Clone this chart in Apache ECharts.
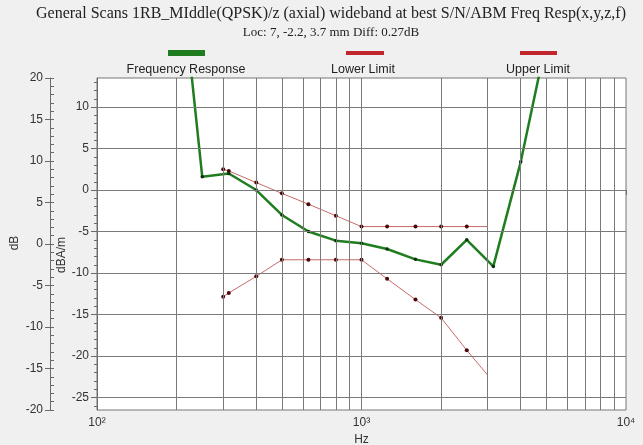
<!DOCTYPE html>
<html><head><meta charset="utf-8">
<script src="https://cdn.jsdelivr.net/npm/echarts@6/dist/echarts.min.js"></script>
<style>html,body{margin:0;padding:0;background:#f0f0f0}#c{width:643px;height:445px}</style>
</head><body><div id="c"></div>
<script>
const titleText = 'General Scans 1RB_MIddle(QPSK)/z (axial) wideband at best S/N/ABM Freq Resp(x,y,z,f)';
const subtitleText = 'Loc: 7, -2.2, 3.7 mm Diff: 0.27dB';
const legendNames = ['Frequency Response', 'Lower Limit', 'Upper Limit'];
const respFreqs = [200, 250, 315, 400, 500, 630, 800, 1000, 1250, 1600, 2000, 2500, 3150, 4000, 5000];
const respValues = [31, 1.6, 2.0, 0.0, -3.0, -5.0, -6.1, -6.4, -7.1, -8.35, -9.0, -6.0, -9.2, 3.4, 18];
const limitFreqs = [300, 315, 400, 500, 630, 800, 1000, 1250, 1600, 2000, 2500, 3000];
const upperValues = [2.5, 2.3, 0.9, -0.4, -1.7, -3.1, -4.4, -4.4, -4.4, -4.4, -4.4, -4.4];
const lowerValues = [-12.85, -12.4, -10.4, -8.4, -8.4, -8.4, -8.4, -10.7, -13.2, -15.4, -19.3, -22.3];
const innerTicks = [-25, -20, -15, -10, -5, 0, 5, 10];
const xTickLabels = {100: '10²', 1000: '10³', 10000: '10⁴'};
const vGridFreqs = [200, 300, 400, 500, 600, 700, 800, 900, 1000, 2000, 3000, 4000, 5000, 6000, 7000, 8000, 9000];

const innerMin = -26.5, innerMax = 13.5, outerMin = -20, outerMax = 20;
const innerMinor = [];
for (let v = Math.ceil(innerMin); v <= innerMax; v++) innerMinor.push(v);
const outerMinor = [];
for (let v = outerMin; v <= outerMax; v++) outerMinor.push(v);

const pairs = (xs, ys) => xs.map((x, i) => [x, ys[i]]);
const limitData = (ys) => limitFreqs.map((x, i) => i === limitFreqs.length - 1 ? {value: [x, ys[i]], symbol: 'none'} : [x, ys[i]]);

const axisCol = '#6a6a6a';
const labelStyle = {color: '#333', fontSize: 12, fontFamily: 'Liberation Sans'};
const gridCol = '#7a7a7a';

const chart = echarts.init(document.getElementById('c'));
chart.setOption({
  backgroundColor: '#f0f0f0',
  animation: false,
  grid: {left: 97, right: 17, top: 78, bottom: 35, show: true, backgroundColor: '#fff', borderColor: '#777', borderWidth: 1,
         outerBoundsMode: 'none', containLabel: false},
  xAxis: {
    type: 'log', logBase: 10, min: 100, max: 10000,
    axisLine: {lineStyle: {color: axisCol}},
    axisTick: {length: 5, lineStyle: {color: axisCol}},
    axisLabel: Object.assign({margin: 7, formatter: v => xTickLabels[Math.round(v)] || ''}, labelStyle),
    splitLine: {show: false}, minorTick: {show: false},
    name: 'Hz', nameLocation: 'middle', nameGap: 21,
    nameTextStyle: labelStyle
  },
  yAxis: [
    {type: 'value', min: innerMin, max: innerMax, position: 'left', offset: 0,
     axisLine: {show: true, lineStyle: {color: axisCol}},
     axisTick: {show: true, length: 6, customValues: innerTicks, lineStyle: {color: axisCol}},
     axisLabel: Object.assign({customValues: innerTicks, margin: 8}, labelStyle),
     splitLine: {show: false}},
    {type: 'value', min: innerMin, max: innerMax, position: 'left', offset: 0,
     axisLine: {show: false},
     axisTick: {show: true, length: 3, customValues: innerMinor, lineStyle: {color: axisCol}},
     axisLabel: {show: false}, splitLine: {show: false}},
    {type: 'value', min: outerMin, max: outerMax, interval: 5, position: 'left', offset: 47,
     axisLine: {show: true, lineStyle: {color: axisCol}},
     axisTick: {show: true, length: 5, lineStyle: {color: axisCol}},
     axisLabel: Object.assign({margin: 7}, labelStyle),
     splitLine: {show: false}},
    {type: 'value', min: outerMin, max: outerMax, position: 'left', offset: 47,
     axisLine: {show: false},
     axisTick: {show: true, inside: true, length: 4, customValues: outerMinor, lineStyle: {color: axisCol}},
     axisLabel: {show: false}, splitLine: {show: false}}
  ],
  series: [
    {name: 'grid', type: 'line', data: pairs(respFreqs, respValues), symbol: 'none', lineStyle: {opacity: 0}, z: 1, silent: true,
     markLine: {silent: true, symbol: 'none', label: {show: false}, animation: false,
       lineStyle: {color: gridCol, type: 'solid', width: 1},
       data: vGridFreqs.map(f => ({xAxis: f})).concat(innerTicks.map(v => ({yAxis: v})))}},
    {name: legendNames[1], type: 'line', data: limitData(lowerValues), z: 3,
     lineStyle: {color: '#c86a6a', width: 1}, symbol: 'circle', symbolSize: 4,
     itemStyle: {color: '#4a0808'}},
    {name: legendNames[2], type: 'line', data: limitData(upperValues), z: 3,
     lineStyle: {color: '#c86a6a', width: 1}, symbol: 'circle', symbolSize: 4,
     itemStyle: {color: '#4a0808'}},
    {name: legendNames[0], type: 'line', data: pairs(respFreqs, respValues), z: 4,
     lineStyle: {color: '#1f7d1f', width: 2.5}, symbol: 'circle', symbolSize: 3.5,
     itemStyle: {color: '#0e2e0e'}}
  ],
  graphic: [
    {type: 'text', x: 331, y: 14, style: {text: titleText, font: '16px "Liberation Serif"', fill: '#222', textAlign: 'center', textVerticalAlign: 'middle'}},
    {type: 'text', x: 331, y: 33, style: {text: subtitleText, font: '13px "Liberation Serif"', fill: '#222', textAlign: 'center', textVerticalAlign: 'middle'}},
    {type: 'rect', shape: {x: 168, y: 50, width: 37, height: 6}, style: {fill: '#1f7d1f'}},
    {type: 'text', x: 186, y: 70, style: {text: legendNames[0], font: '12.5px "Liberation Sans"', fill: '#222', textAlign: 'center', textVerticalAlign: 'middle'}},
    {type: 'rect', shape: {x: 346, y: 51, width: 38, height: 4}, style: {fill: '#c0262c'}},
    {type: 'text', x: 363, y: 70, style: {text: legendNames[1], font: '12.5px "Liberation Sans"', fill: '#222', textAlign: 'center', textVerticalAlign: 'middle'}},
    {type: 'rect', shape: {x: 520, y: 51, width: 37, height: 4}, style: {fill: '#c0262c'}},
    {type: 'text', x: 538, y: 70, style: {text: legendNames[2], font: '12.5px "Liberation Sans"', fill: '#222', textAlign: 'center', textVerticalAlign: 'middle'}},
    {type: 'text', x: 15, y: 243, rotation: Math.PI / 2, style: {text: 'dB', font: '12px "Liberation Sans"', fill: '#333', textAlign: 'center', textVerticalAlign: 'middle'}},
    {type: 'text', x: 62, y: 255, rotation: Math.PI / 2, style: {text: 'dBA/m', font: '12px "Liberation Sans"', fill: '#333', textAlign: 'center', textVerticalAlign: 'middle'}}
  ]
});
</script></body></html>
